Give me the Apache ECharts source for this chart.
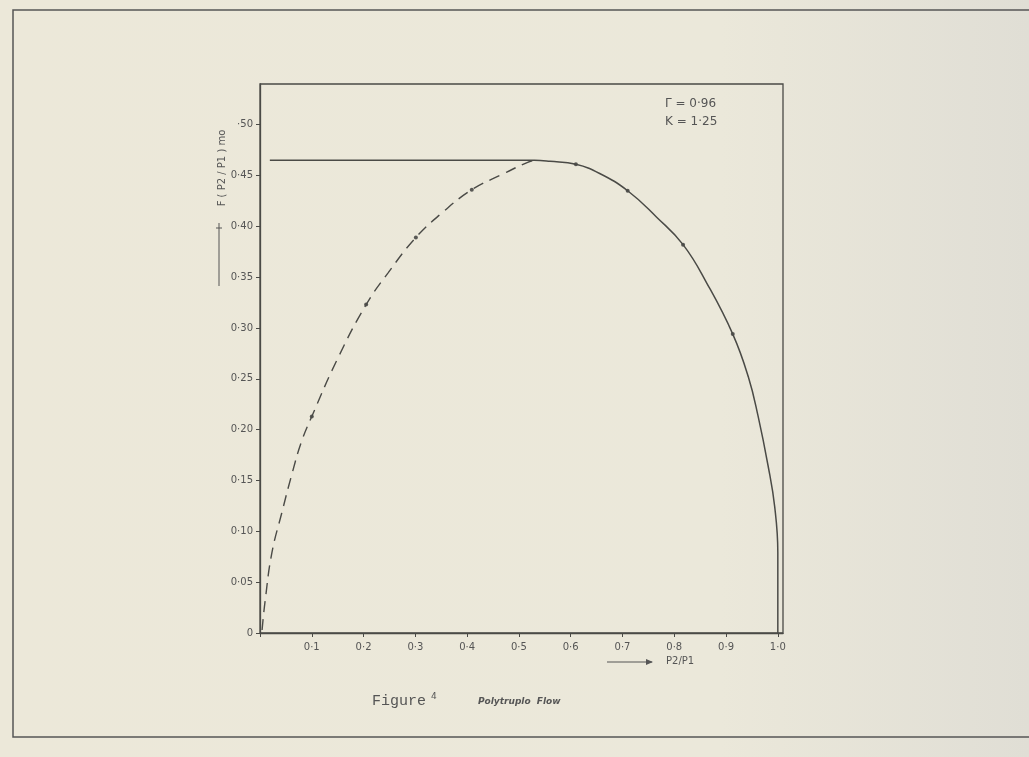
<!DOCTYPE html>
<html>
<head>
<meta charset="utf-8">
<script src="https://cdn.jsdelivr.net/npm/echarts@6/dist/echarts.min.js"></script>
<style>
html,body{margin:0;padding:0;background:#ece9db;}
#chart{width:1029px;height:757px;}
</style>
</head>
<body>
<div id="chart"></div>
<script>
// ---- data ----
const xTicks = [0, 0.1, 0.2, 0.3, 0.4, 0.5, 0.6, 0.7, 0.8, 0.9, 1.0];
const xTickLabels = ['', '0·1', '0·2', '0·3', '0·4', '0·5', '0·6', '0·7', '0·8', '0·9', '1·0'];
const yTicks = [0, 0.05, 0.10, 0.15, 0.20, 0.25, 0.30, 0.35, 0.40, 0.45, 0.50];
const yTickLabels = ['0', '0·05', '0·10', '0·15', '0·20', '0·25', '0·30', '0·35', '0·40', '0·45', '·50'];

// solid line (choked plateau + subsonic branch)
const solidX = [0.019, 0.53, 0.56, 0.61, 0.656, 0.71, 0.766, 0.817, 0.863, 0.913, 0.943, 0.962, 0.981, 0.994, 1.0, 1.0];
const solidY = [0.465, 0.465, 0.464, 0.461, 0.452, 0.435, 0.409, 0.382, 0.344, 0.294, 0.252, 0.213, 0.165, 0.124, 0.079, 0.0];
// dashed theoretical branch
const dashX = [0.004, 0.010, 0.023, 0.042, 0.062, 0.080, 0.100, 0.151, 0.205, 0.247, 0.301, 0.351, 0.409, 0.467, 0.517, 0.53];
const dashY = [0.003, 0.032, 0.079, 0.118, 0.157, 0.188, 0.213, 0.271, 0.323, 0.354, 0.389, 0.413, 0.436, 0.451, 0.463, 0.465];
// plotted points
const markX = [0.100, 0.205, 0.301, 0.409, 0.61, 0.71, 0.817, 0.913];
const markY = [0.213, 0.323, 0.389, 0.436, 0.461, 0.435, 0.382, 0.294];

const ink = '#4a4a46';
const zip = (a, b) => a.map((v, i) => [v, b[i]]);

const chart = echarts.init(document.getElementById('chart'));
chart.setOption({
  backgroundColor: new echarts.graphic.LinearGradient(0, 0, 1, 0, [
    {offset: 0, color: '#ece8d9'}, {offset: 0.7, color: '#ebe8da'}, {offset: 1, color: '#e0ded5'}
  ]),
  animation: false,
  grid: {left: 260, right: 246, top: 84, bottom: 124, show: true, borderColor: ink, borderWidth: 1.3, backgroundColor: 'transparent'},
  xAxis: {
    type: 'value', min: 0, max: 1.01, interval: 0.1,
    axisLine: {show: true, lineStyle: {color: ink, width: 1.3}},
    axisTick: {show: true, length: 4, lineStyle: {color: ink}},
    splitLine: {show: false},
    axisLabel: {
      showMaxLabel: false, margin: 9, color: '#555', fontFamily: 'DejaVu Sans', fontSize: 10,
      formatter: v => { const i = xTicks.findIndex(t => Math.abs(t - v) < 1e-6); return i >= 0 ? xTickLabels[i] : ''; }
    }
  },
  yAxis: {
    type: 'value', min: 0, max: 0.54, interval: 0.05,
    axisLine: {show: true, lineStyle: {color: ink, width: 1.3}},
    axisTick: {show: true, length: 4, lineStyle: {color: ink}},
    splitLine: {show: false},
    axisLabel: {
      showMaxLabel: false, margin: 7, color: '#555', fontFamily: 'DejaVu Sans', fontSize: 10,
      formatter: v => { const i = yTicks.findIndex(t => Math.abs(t - v) < 1e-6); return i >= 0 ? yTickLabels[i] : ''; }
    }
  },
  series: [
    {type: 'line', data: zip(solidX, solidY), symbol: 'none', smooth: 0.45,
     lineStyle: {color: ink, width: 1.5}},
    {type: 'line', data: zip(dashX, dashY), symbol: 'none', smooth: 0.45,
     lineStyle: {color: ink, width: 1.4, type: [11, 7]}},
    {type: 'scatter', data: zip(markX, markY), symbol: 'circle', symbolSize: 4,
     itemStyle: {color: '#333'}}
  ],
  graphic: [
    // outer scanned frame
    {type: 'polyline', shape: {points: [[1029, 10], [13, 10], [13, 737], [1029, 737]]},
     style: {stroke: '#555', lineWidth: 1.5, fill: null}},
    // parameters
    {type: 'text', left: 665, top: 98, style: {text: 'Γ = 0·96', fill: '#555', font: '12px "DejaVu Sans"'}},
    {type: 'text', left: 665, top: 116, style: {text: 'K = 1·25', fill: '#555', font: '12px "DejaVu Sans"'}},
    // y axis name
    {type: 'text', x: 222, y: 168, rotation: Math.PI / 2,
     style: {text: 'F ( P2 / P1 ) mo', fill: '#555', font: '10px "DejaVu Sans"', align: 'center', verticalAlign: 'middle'}},
    {type: 'line', shape: {x1: 219, y1: 223, x2: 219, y2: 286}, style: {stroke: '#555', lineWidth: 1}},
    {type: 'line', shape: {x1: 216, y1: 228, x2: 222, y2: 228}, style: {stroke: '#555', lineWidth: 1}},
    // x axis name
    {type: 'line', shape: {x1: 607, y1: 662, x2: 652, y2: 662}, style: {stroke: '#555', lineWidth: 1}},
    {type: 'polygon', shape: {points: [[646, 659], [653, 662], [646, 665]]}, style: {fill: '#555'}},
    {type: 'text', left: 666, top: 656, style: {text: 'P2/P1', fill: '#555', font: '10px "DejaVu Sans"'}},
    // caption
    {type: 'text', left: 372, top: 694, style: {text: 'Figure', fill: '#555', font: '15px "Liberation Mono"'}},
    {type: 'text', left: 431, top: 692, style: {text: '4', fill: '#555', font: '9px "DejaVu Sans"'}},
    {type: 'text', left: 478, top: 697, style: {text: 'Polytruplo  Flow', fill: '#555', font: 'italic bold 9px "DejaVu Sans"'}}
  ]
});
</script>
</body>
</html>
